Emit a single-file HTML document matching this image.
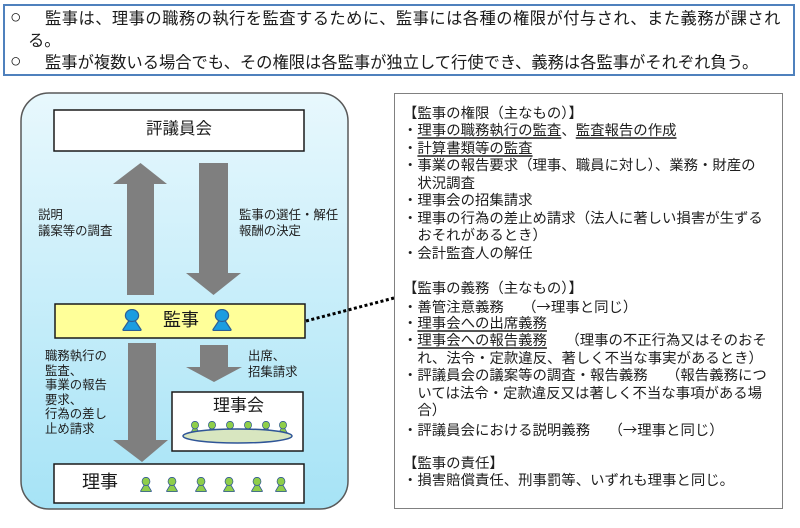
<!DOCTYPE html>
<html><head><meta charset="utf-8">
<style>
*{margin:0;padding:0;box-sizing:border-box}
body{width:800px;height:528px;background:#fff;position:relative;overflow:hidden;font-family:"Liberation Sans","Noto Sans CJK JP",sans-serif;color:#1a1a1a}
.abs{position:absolute;white-space:nowrap}
.top{position:absolute;left:3px;top:4px;width:792px;height:72px;border:2px solid #4f81bd;background:#fff}
.t16{font-size:16.3px;line-height:22px}
.circ{font-size:19px;line-height:22px}
.lbl{font-size:12.4px;color:#1e1e1e}
.rp{position:absolute;left:394px;top:93px;width:389px;height:416px;border:1.5px solid #808080;background:#fff}
.rt{position:absolute;left:403px;top:105.5px;font-size:14.4px;line-height:17.5px;color:#1e1e1e;white-space:nowrap}
.rt div{height:17.5px}
.rt .c{padding-left:14.4px}
.u{text-decoration:underline;text-decoration-color:#555;text-decoration-thickness:1.5px;text-underline-offset:2px}
.ar{font-family:"Noto Sans CJK JP",sans-serif}
</style></head><body>

<div class="top"></div>
<div class="abs circ" style="left:10px;top:7px;">○</div>
<div class="abs t16" style="left:45px;top:8px;letter-spacing:0.45px;">監事は、理事の職務の執行を監査するために、監事には各種の権限が付与され、また義務が課され</div>
<div class="abs t16" style="left:28px;top:30px;">る。</div>
<div class="abs circ" style="left:10px;top:51px;">○</div>
<div class="abs t16" style="left:45px;top:52px;">監事が複数いる場合でも、その権限は各監事が独立して行使でき、義務は各監事がそれぞれ負う。</div>

<svg class="abs" style="left:0;top:0" width="800" height="528" viewBox="0 0 800 528">
  <defs>
    <linearGradient id="bg" x1="0" y1="0" x2="0" y2="1">
      <stop offset="0" stop-color="#e8f8fd"/>
      <stop offset="1" stop-color="#a6e3f6"/>
    </linearGradient>
    <symbol id="p" viewBox="0 0 20 22" preserveAspectRatio="none">
      <path d="M7 11.5 L13 11.5 L19 20.5 Q19.3 21.5 18 21.5 L2 21.5 Q0.7 21.5 1 20.5 Z"/>
      <ellipse cx="10" cy="6.5" rx="6.6" ry="6"/>
    </symbol>
  </defs>
  <rect x="21" y="93" width="327" height="416" rx="28" ry="28" fill="url(#bg)" stroke="#595959" stroke-width="1.5"/>

  <rect x="54" y="110" width="250" height="41" fill="#fff" stroke="#1a1a1a" stroke-width="1.5"/>
  <rect x="55" y="304" width="250" height="34" fill="#ffff99" stroke="#1a1a1a" stroke-width="1.5"/>
  <rect x="172" y="392" width="131" height="59" fill="#fff" stroke="#1a1a1a" stroke-width="1.5"/>
  <rect x="54" y="464" width="250" height="39" fill="#fff" stroke="#1a1a1a" stroke-width="1.5"/>

  <g fill="#7f7f7f">
    <polygon points="140.5,163 167,184 154,184 154,295 127,295 127,184 113,184"/>
    <polygon points="199,163 228,163 228,273 241,273 213.5,295 186,273 199,273"/>
    <polygon points="128,343 156,343 156,440 168,440 142,462 113,440 128,440"/>
    <polygon points="200,345 228,345 228,367 242,367 214,382 186,367 200,367"/>
  </g>

  <line x1="306" y1="321" x2="394" y2="298" stroke="#000" stroke-width="3" stroke-dasharray="3 2.5"/>

  <g fill="#1b9de0" stroke="#2d5f95" stroke-width="1.2">
    <use href="#p" x="122" y="309" width="20" height="22"/>
    <use href="#p" x="212" y="309" width="20" height="22"/>
  </g>

  <g fill="#8fce4a" stroke="#2f5597" stroke-width="1.2">
    <use href="#p" x="189.5" y="421" width="11" height="14"/>
    <use href="#p" x="206.5" y="421" width="11" height="14"/>
    <use href="#p" x="224.5" y="421" width="11" height="14"/>
    <use href="#p" x="242.5" y="421" width="11" height="14"/>
    <use href="#p" x="260.5" y="421" width="11" height="14"/>
    <use href="#p" x="277.5" y="421" width="11" height="14"/>
  </g>
  <ellipse cx="237.5" cy="436" rx="54.5" ry="7" fill="#d8e6c0" stroke="#2f5597" stroke-width="1.5"/>

  <g fill="#8fce4a" stroke="#2f5597" stroke-width="1.2">
    <use href="#p" x="140" y="477" width="12" height="15"/>
    <use href="#p" x="166" y="477" width="12" height="15"/>
    <use href="#p" x="195" y="477" width="12" height="15"/>
    <use href="#p" x="223" y="477" width="12" height="15"/>
    <use href="#p" x="251" y="477" width="12" height="15"/>
    <use href="#p" x="275" y="477" width="12" height="15"/>
  </g>
</svg>

<div class="abs" style="left:54px;top:119px;width:250px;text-align:center;font-size:16.5px;line-height:20px;">評議員会</div>
<div class="abs" style="left:131px;top:310px;width:100px;text-align:center;font-size:18px;line-height:20px;">監事</div>
<div class="abs" style="left:188.5px;top:396px;width:100px;text-align:center;font-size:17px;line-height:20px;">理事会</div>
<div class="abs" style="left:82px;top:472px;font-size:18px;line-height:20px;">理事</div>

<div class="abs lbl" style="left:38px;top:207px;line-height:16px;">説明<br>議案等の調査</div>
<div class="abs lbl" style="left:239px;top:207px;line-height:16px;">監事の選任・解任<br>報酬の決定</div>
<div class="abs lbl" style="left:45px;top:349px;line-height:14.6px;">職務執行の<br>監査、<br>事業の報告<br>要求、<br>行為の差し<br>止め請求</div>
<div class="abs lbl" style="left:248px;top:348px;line-height:16px;">出席、<br>招集請求</div>

<div class="rp"></div>
<div class="rt">
  <div>【監事の権限（主なもの）】</div>
  <div>・<span class="u">理事の職務執行の監査</span>、<span class="u">監査報告の作成</span></div>
  <div>・<span class="u">計算書類等の監査</span></div>
  <div>・事業の報告要求（理事、職員に対し）、業務・財産の</div>
  <div class="c">状況調査</div>
  <div>・理事会の招集請求</div>
  <div>・理事の行為の差止め請求（法人に著しい損害が生ずる</div>
  <div class="c">おそれがあるとき）</div>
  <div>・会計監査人の解任</div>
  <div></div>
  <div>【監事の義務（主なもの）】</div>
  <div>・善管注意義務　 （<span class="ar">→</span>理事と同じ）</div>
  <div>・<span class="u">理事会への出席義務</span></div>
  <div>・<span class="u">理事会への報告義務</span>　 （理事の不正行為又はそのおそ</div>
  <div class="c">れ、法令・定款違反、著しく不当な事実があるとき）</div>
  <div>・評議員会の議案等の調査・報告義務　 （報告義務につ</div>
  <div class="c">いては法令・定款違反又は著しく不当な事項がある場</div>
  <div class="c">合）</div>
  <div>・評議員会における説明義務　 （<span class="ar">→</span>理事と同じ）</div>
  <div></div>
  <div>【監事の責任】</div>
  <div>・損害賠償責任、刑事罰等、いずれも理事と同じ。</div>
</div>

</body></html>
